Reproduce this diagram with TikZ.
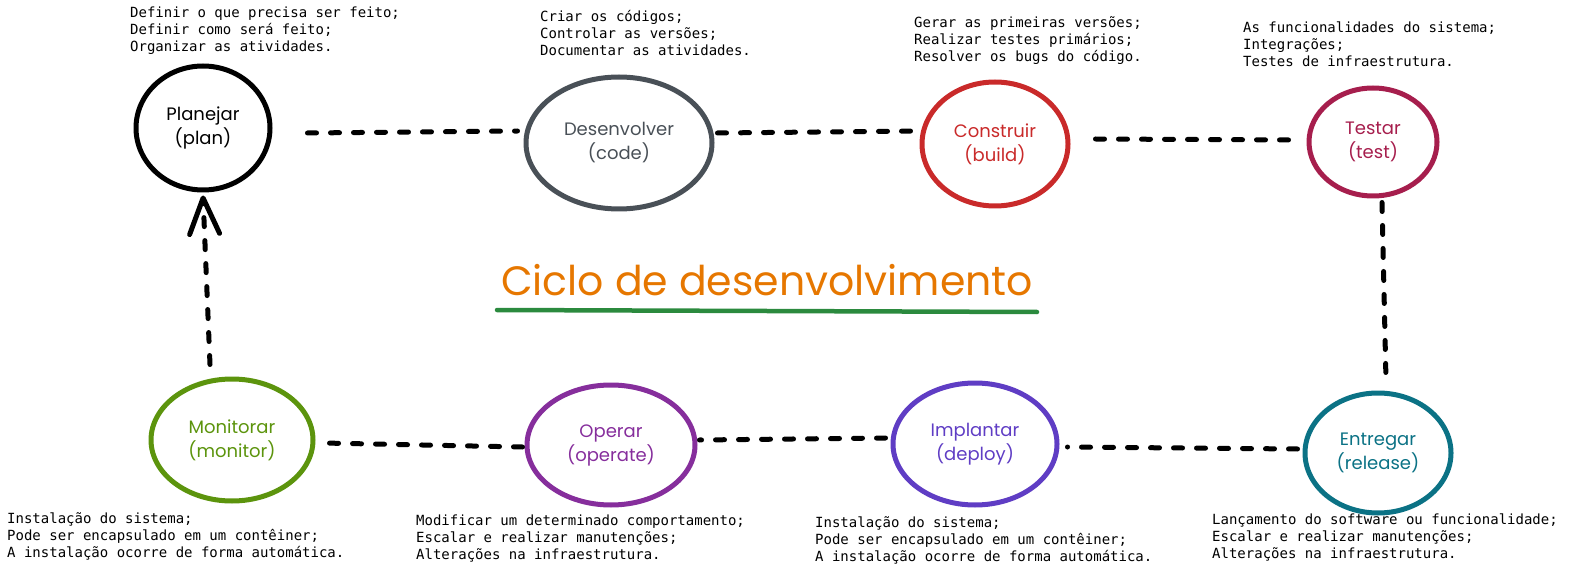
\documentclass[tikz,border=0pt]{standalone}
\usepackage{fontspec}
\setmainfont{Poppins}
\setmonofont{DejaVu Sans Mono}
\usetikzlibrary{shapes.geometric,arrows.meta}
\definecolor{codeC}{HTML}{495057}
\definecolor{buildC}{HTML}{C92A2A}
\definecolor{testC}{HTML}{A61E4D}
\definecolor{releaseC}{HTML}{0B7285}
\definecolor{deployC}{HTML}{5F3DC4}
\definecolor{operateC}{HTML}{862E9C}
\definecolor{monitorC}{HTML}{5C940D}
\definecolor{titleC}{HTML}{E67700}
\definecolor{lineC}{HTML}{2B8A3E}
\tikzset{
  stage/.style={ellipse, draw, line width=5pt, inner sep=0pt, align=center, font=\fontsize{18}{24}\selectfont},
  note/.style={anchor=north west, inner sep=0pt, align=left, font=\ttfamily\fontsize{14}{17}\selectfont},
  link/.style={line width=5pt, line cap=round, dash pattern=on 9pt off 14pt}
}
\begin{document}
\begin{tikzpicture}[x=1pt, y=-1pt]
\useasboundingbox (0,0) rectangle (1575,572);
\node[stage, minimum width=134pt, minimum height=124pt] (plan) at (203,128) {Planejar\\(plan)};
\node[stage, codeC, text=codeC, minimum width=186pt, minimum height=132pt] (code) at (619,143) {Desenvolver\\(code)};
\node[stage, buildC, text=buildC, minimum width=146pt, minimum height=124pt] (build) at (995,144) {Construir\\(build)};
\node[stage, testC, text=testC, minimum width=128pt, minimum height=108pt] (test) at (1373,142) {Testar\\(test)};
\node[stage, releaseC, text=releaseC, minimum width=146pt, minimum height=120pt] (release) at (1378,453) {Entregar\\(release)};
\node[stage, deployC, text=deployC, minimum width=164pt, minimum height=122pt] (deploy) at (975,444) {Implantar\\(deploy)};
\node[stage, operateC, text=operateC, minimum width=168pt, minimum height=120pt] (operate) at (611,445) {Operar\\(operate)};
\node[stage, monitorC, text=monitorC, minimum width=162pt, minimum height=122pt] (monitor) at (232,440) {Monitorar\\(monitor)};
\node[note] (planNote) at (130,7) {Definir o que precisa ser feito;\\Definir como será feito;\\Organizar as atividades.};
\node[note] (codeNote) at (540,10) {Criar os códigos;\\Controlar as versões;\\Documentar as atividades.};
\node[note] (buildNote) at (914,16) {Gerar as primeiras versões;\\Realizar testes primários;\\Resolver os bugs do código.};
\node[note] (testNote) at (1243,22) {As funcionalidades do sistema;\\Integrações;\\Testes de infraestrutura.};
\node[note] (monitorNote) at (7,512) {Instalação do sistema;\\Pode ser encapsulado em um contêiner;\\A instalação ocorre de forma automática.};
\node[note] (operateNote) at (416,515) {Modificar um determinado comportamento;\\Escalar e realizar manutenções;\\Alterações na infraestrutura.};
\node[note] (deployNote) at (815,516) {Instalação do sistema;\\Pode ser encapsulado em um contêiner;\\A instalação ocorre de forma automática.};
\node[note] (releaseNote) at (1212,514) {Lançamento do software ou funcionalidade;\\Escalar e realizar manutenções;\\Alterações na infraestrutura.};
\node[text=titleC, font=\fontsize{41}{44}\selectfont, inner sep=0pt] (title) at (767,280) {Ciclo de desenvolvimento};
\draw[lineC, line width=4.5pt, line cap=round] (497,310) -- (1037,312);
\draw[link] ([shift={(35,5)}]plan.east) -- ([shift={(-6,-12)}]code.west);
\draw[link] ([shift={(3,-10)}]code.east) -- ([shift={(-2,-13)}]build.west);
\draw[link] ([shift={(25,-5)}]build.east) -- ([shift={(-9,-2)}]test.west);
\draw[link] ([shift={(9,4)}]test.south) -- ([shift={(8,-10)}]release.north);
\draw[link] ([shift={(-5,-4)}]release.west) -- ([shift={(8,3)}]deploy.east);
\draw[link] ([shift={(-5,-6)}]deploy.west) -- ([shift={(2,-5)}]operate.east);
\draw[link] ([shift={(-2,2)}]operate.west) -- ([shift={(7,3)}]monitor.east);
\draw[link, -{Straight Barb[length=36pt, width=30pt, round]}] ([shift={(-22,-12)}]monitor.north) -- ([shift={(0,3)}]plan.south);
\end{tikzpicture}
\end{document}
